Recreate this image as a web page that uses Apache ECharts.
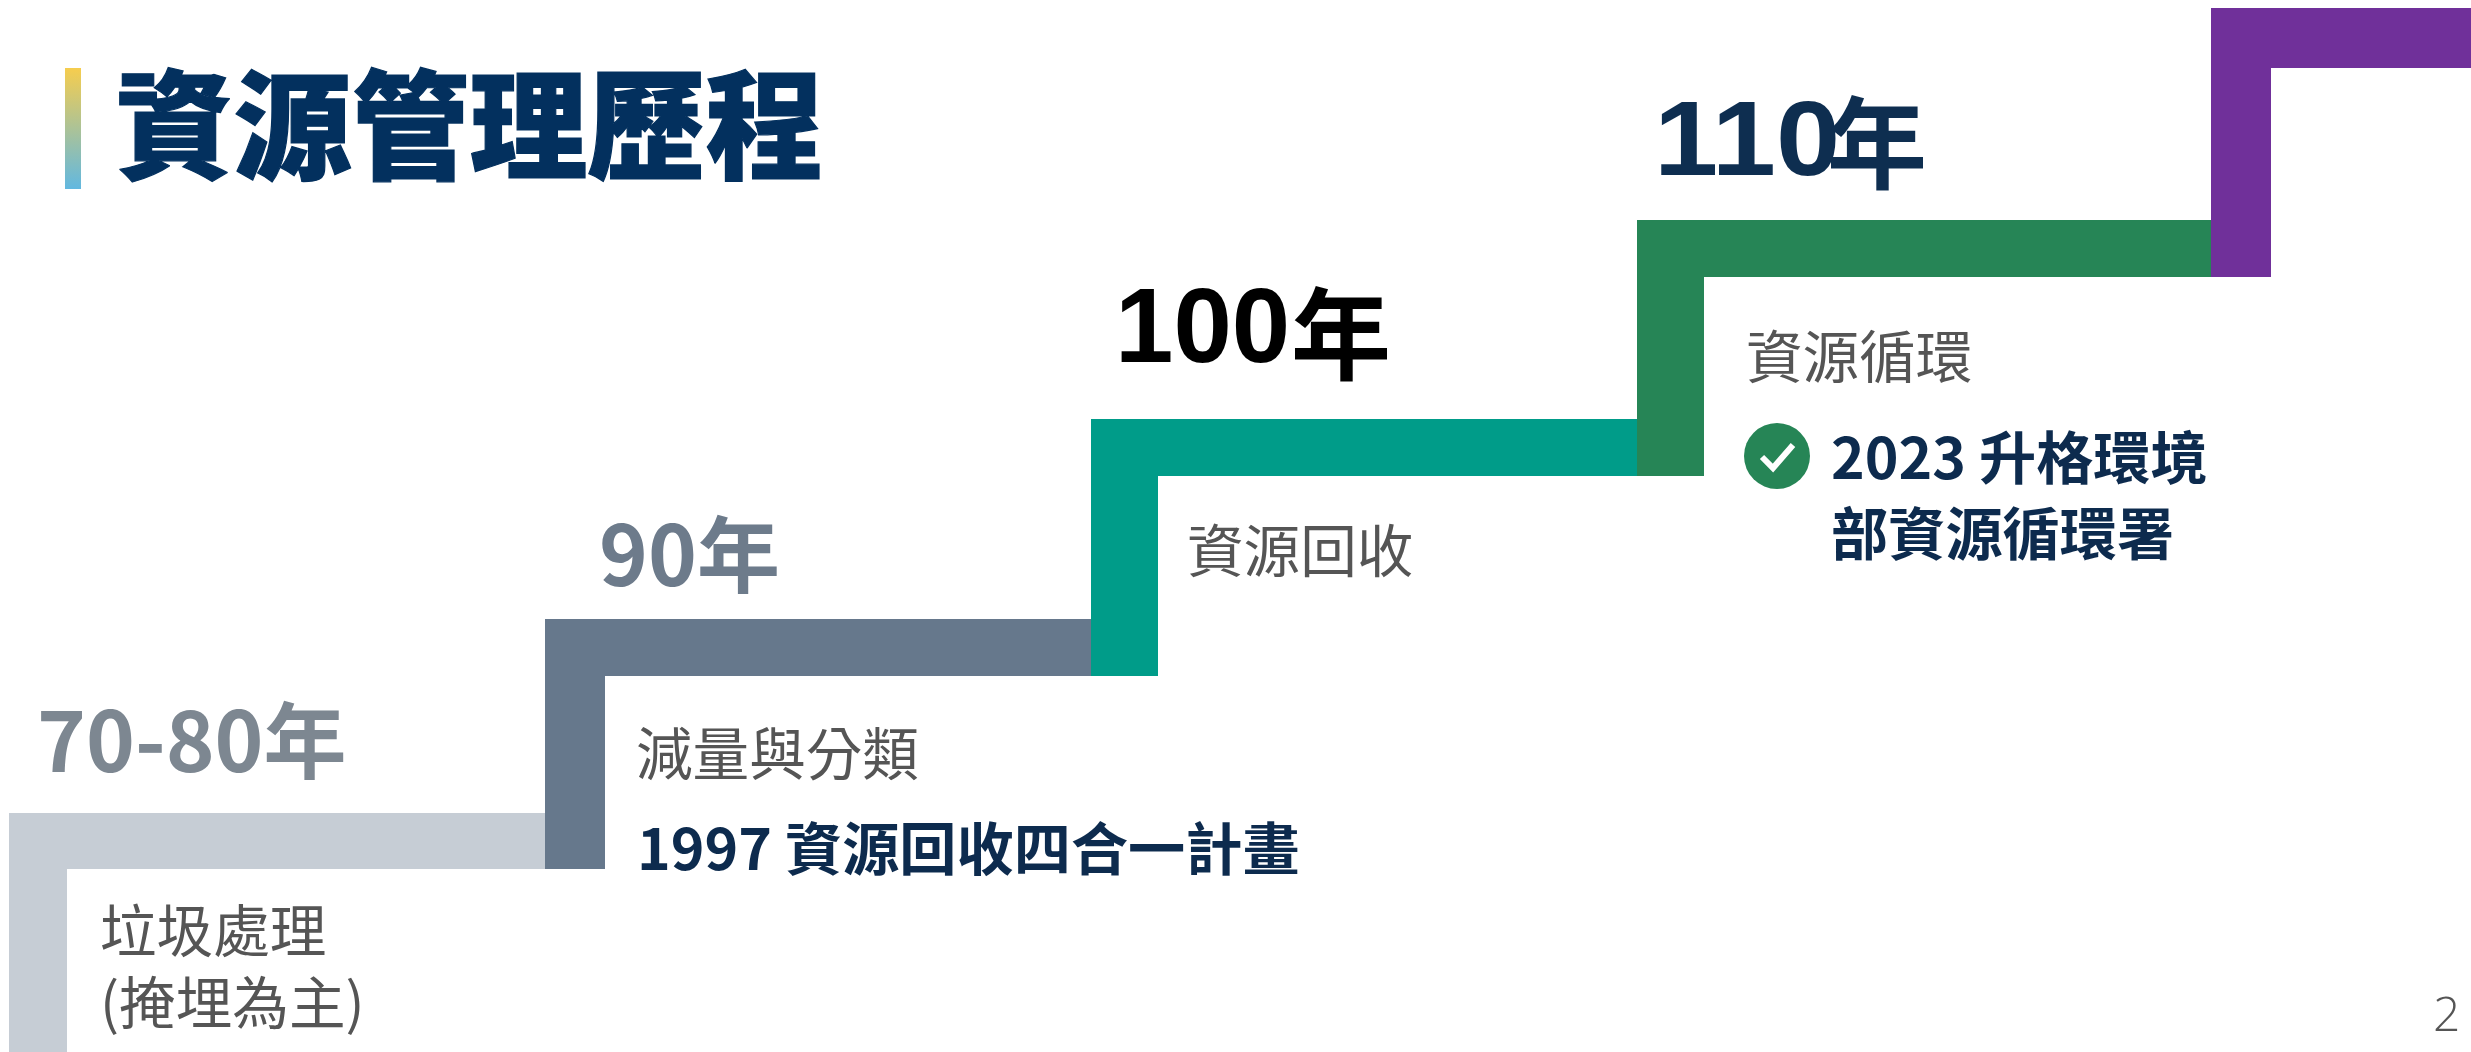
<!DOCTYPE html>
<html>
<head>
<meta charset="utf-8">
<style>html,body{margin:0;padding:0;background:#fff}#chart{width:2471px;height:1052px}</style>
<script src="https://cdn.jsdelivr.net/npm/echarts@6/dist/echarts.min.js"></script>
</head>
<body>
<div id="chart"></div>
<script>
// Resource management timeline drawn as a rising staircase.
const pageTitle = '資源管理歷程';
const periods = ['70-80年', '90年', '100年', '110年', ''];
const stages = [['垃圾處理', '(掩埋為主)'], ['減量與分類'], ['資源回收'], ['資源循環'], []];
const milestones = [[], ['1997 資源回收四合一計畫'], [], ['2023 升格環境', '部資源循環署'], []];

// Staircase values on the diagram's axes: where each step begins and how high it stands.
const stepStart = [9, 545, 1091, 1637, 2211];
const stepHeight = [239, 433, 633, 832, 1044];
const stepIndex = [0, 1, 2, 3, 4];

const W = 2471, H = 1052;
const SANS = 'Noto Sans CJK TC';
const LATIN = 'Liberation Sans';

const stepStyle = [
  { fill: '#c6cdd5', band: 56, riser: 58 },
  { fill: '#66788c', band: 57, riser: 60 },
  { fill: '#009c89', band: 57, riser: 67 },
  { fill: '#268556', band: 57, riser: 67 },
  { fill: '#70309a', band: 60, riser: 60 }
];

// Period heading placement, relative to the step's outer corner.
// Headings with a split entry set their numerals and the 年 separately.
const headStyle = [
  { dx: 28, dy: -31, size: 83, fill: '#7d8791' },
  { dx: 54, dy: -23, size: 83, fill: '#6d7b8b' },
  { fill: '#000000', split: { numX: 24, numY: -86, numSize: 105, stretch: 1, sufX: 200, sufY: -85, sufSize: 100 } },
  { fill: '#0e2e50', split: { numX: 17, numY: -74, numSize: 105, stretch: 1.1, sufX: 190, sufY: -77, sufSize: 100 } },
  { dx: 0, dy: 0, size: 83, fill: '#000' }
];

const stageOrigin = [
  { dx: 91, dy: 117, lines: 72 },
  { dx: 91, dy: 134, lines: 70 },
  { dx: 96, dy: 131, lines: 70 },
  { dx: 109, dy: 136, lines: 70 },
  { dx: 0, dy: 0, lines: 0 }
];
const milestoneOrigin = [
  null,
  { dx: 92, dy: 229, lines: 78 },
  null,
  { dx: 194, dy: 237, lines: 76 },
  null
];

function textEl(text, x, y, size, weight, family, fill, valign) {
  return {
    type: 'text',
    style: {
      text: text, x: x, y: y, fontSize: size, fontWeight: weight, fontFamily: family,
      fill: fill, textAlign: 'left', textVerticalAlign: valign
    }
  };
}

function renderStep(params, api) {
  const i = api.value(0);
  const st = stepStyle[i];
  const outer = api.coord([api.value(1), api.value(2)]);
  const nextX = i + 1 < stepStart.length ? api.coord([stepStart[i + 1], 0])[0] + 10 : W;
  const floorY = i > 0
    ? api.coord([0, stepHeight[i - 1]])[1] + stepStyle[i - 1].band
    : api.coord([0, 0])[1];
  const x = outer[0], y = outer[1];
  const band = st.band, riser = st.riser;
  const children = [{
    type: 'polygon',
    shape: { points: [
      [x, y], [nextX, y], [nextX, y + band], [x + riser, y + band],
      [x + riser, floorY], [x, floorY]
    ] },
    style: { fill: st.fill }
  }];
  const h = headStyle[i];
  if (periods[i]) {
    if (h.split) {
      const s = h.split;
      const num = textEl(periods[i].slice(0, -1), x + s.numX, y + s.numY, s.numSize, 700, LATIN, h.fill, 'middle');
      num.originX = x + s.numX;
      num.scaleX = s.stretch;
      children.push(num);
      children.push(textEl(periods[i].slice(-1), x + s.sufX, y + s.sufY, s.sufSize, 700, SANS, h.fill, 'middle'));
    } else {
      children.push(textEl(periods[i], x + h.dx, y + h.dy, h.size, 700, SANS, h.fill, 'bottom'));
    }
  }
  const so = stageOrigin[i];
  stages[i].forEach(function (line, k) {
    children.push(textEl(line, x + so.dx, y + so.dy + k * so.lines, 56.6, 400, SANS, '#555555', 'middle'));
  });
  const mo = milestoneOrigin[i];
  if (mo) {
    milestones[i].forEach(function (line, k) {
      children.push(textEl(line, x + mo.dx, y + mo.dy + k * mo.lines, 57.2, 700, SANS, '#0d2b4e', 'middle'));
    });
  }
  // The latest stage carries a round check badge beside its milestone.
  if (i === 3) {
    const cx = x + 140, cy = y + 236;
    children.push({ type: 'circle', shape: { cx: cx, cy: cy, r: 33 }, style: { fill: '#268556' } });
    children.push({
      type: 'polyline',
      shape: { points: [[cx - 15, cy + 1], [cx - 4, cy + 12], [cx + 16, cy - 11]] },
      style: { stroke: '#ffffff', lineWidth: 6, fill: null, lineJoin: 'miter' }
    });
  }
  return { type: 'group', children: children };
}

const chart = echarts.init(document.getElementById('chart'), null, { renderer: 'canvas' });
chart.setOption({
  animation: false,
  backgroundColor: '#ffffff',
  grid: { left: 0, right: 0, top: 0, bottom: 0 },
  xAxis: { type: 'value', min: 0, max: W, show: false },
  yAxis: { type: 'value', min: 0, max: H, show: false },
  series: [{
    type: 'custom',
    coordinateSystem: 'cartesian2d',
    clip: false,
    renderItem: renderStep,
    encode: { x: 1, y: 2 },
    data: stepIndex.map(function (i) { return [i, stepStart[i], stepHeight[i]]; })
  }],
  graphic: [
    {
      type: 'rect', left: 65, top: 68,
      shape: { width: 16, height: 121 },
      style: { fill: new echarts.graphic.LinearGradient(0, 0, 0, 1, [
        { offset: 0, color: '#f6cd4e' }, { offset: 1, color: '#62b8e0' }
      ]) }
    },
    {
      type: 'text', left: 115, top: 66,
      style: {
        text: pageTitle, fontSize: 118, fontWeight: 900, fontFamily: SANS,
        fill: '#03305e', stroke: '#03305e', lineWidth: 1.2
      }
    },
    {
      type: 'text', left: 2433, top: 993,
      style: { text: '2', fontSize: 48, fontWeight: 300, fontFamily: 'Open Sans', fill: '#555555' }
    }
  ]
});
</script>
</body>
</html>
